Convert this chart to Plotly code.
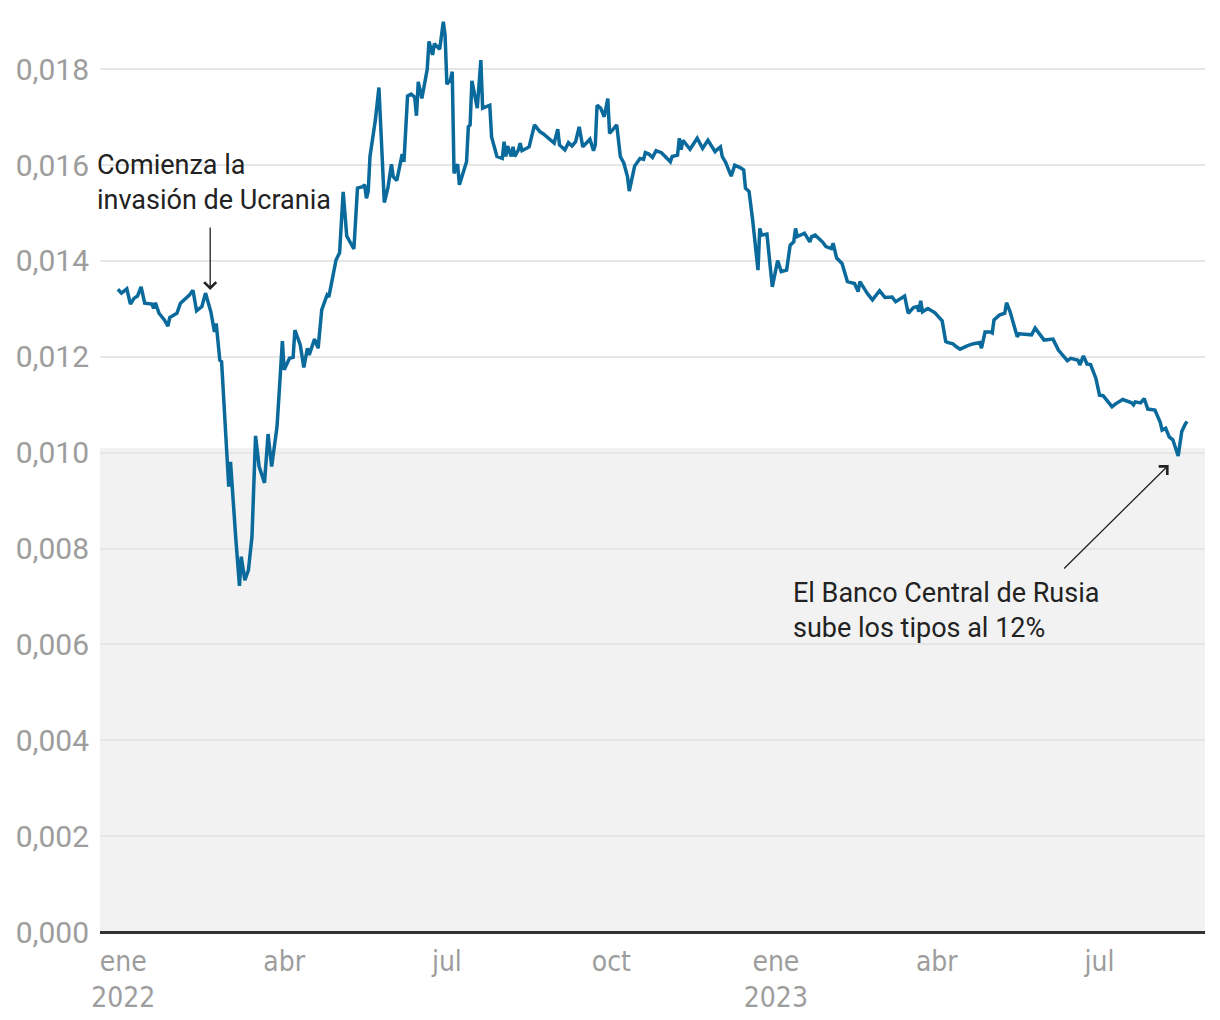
import plotly.graph_objects as go

# Cotización del rublo en dólares (lectura aproximada del gráfico)
fechas = [
    '2021-12-29', '2021-12-31', '2022-01-03', '2022-01-05', '2022-01-07', '2022-01-09',
    '2022-01-11', '2022-01-13', '2022-01-17', '2022-01-18', '2022-01-19', '2022-01-21',
    '2022-01-24', '2022-01-26', '2022-01-27', '2022-01-31', '2022-02-02', '2022-02-05',
    '2022-02-07', '2022-02-09', '2022-02-11', '2022-02-14', '2022-02-16', '2022-02-19',
    '2022-02-20', '2022-02-21', '2022-02-22', '2022-02-24', '2022-02-25', '2022-02-27',
    '2022-03-01', '2022-03-02', '2022-03-03', '2022-03-05', '2022-03-07', '2022-03-08',
    '2022-03-10', '2022-03-12', '2022-03-14', '2022-03-16', '2022-03-18', '2022-03-21',
    '2022-03-23', '2022-03-25', '2022-03-28', '2022-03-30', '2022-03-31', '2022-04-01',
    '2022-04-04', '2022-04-06', '2022-04-07', '2022-04-10', '2022-04-12', '2022-04-14',
    '2022-04-15', '2022-04-18', '2022-04-20', '2022-04-22', '2022-04-25', '2022-04-26',
    '2022-04-29', '2022-04-30', '2022-05-02', '2022-05-04', '2022-05-06', '2022-05-10',
    '2022-05-12', '2022-05-15', '2022-05-16', '2022-05-17', '2022-05-18', '2022-05-19',
    '2022-05-22', '2022-05-24', '2022-05-27', '2022-05-29', '2022-05-31', '2022-06-01',
    '2022-06-03', '2022-06-06', '2022-06-07', '2022-06-09', '2022-06-11', '2022-06-13',
    '2022-06-14', '2022-06-15', '2022-06-17', '2022-06-20', '2022-06-21', '2022-06-23',
    '2022-06-24', '2022-06-27', '2022-06-29', '2022-06-30', '2022-07-01', '2022-07-03',
    '2022-07-04', '2022-07-05', '2022-07-07', '2022-07-08', '2022-07-10', '2022-07-12',
    '2022-07-13', '2022-07-14', '2022-07-15', '2022-07-18', '2022-07-20', '2022-07-21',
    '2022-07-25', '2022-07-26', '2022-07-29', '2022-08-01', '2022-08-02', '2022-08-03',
    '2022-08-04', '2022-08-06', '2022-08-07', '2022-08-08', '2022-08-10', '2022-08-11',
    '2022-08-12', '2022-08-16', '2022-08-19', '2022-08-22', '2022-08-24', '2022-08-30',
    '2022-09-01', '2022-09-02', '2022-09-05', '2022-09-07', '2022-09-09', '2022-09-11',
    '2022-09-13', '2022-09-15', '2022-09-19', '2022-09-21', '2022-09-22', '2022-09-23',
    '2022-09-25', '2022-09-27', '2022-09-29', '2022-09-30', '2022-10-04', '2022-10-06',
    '2022-10-08', '2022-10-10', '2022-10-11', '2022-10-14', '2022-10-17', '2022-10-19',
    '2022-10-20', '2022-10-22', '2022-10-24', '2022-10-26', '2022-10-29', '2022-11-01',
    '2022-11-03', '2022-11-04', '2022-11-07', '2022-11-08', '2022-11-09', '2022-11-10',
    '2022-11-14', '2022-11-18', '2022-11-21', '2022-11-24', '2022-11-28', '2022-11-29',
    '2022-12-01', '2022-12-02', '2022-12-04', '2022-12-07', '2022-12-09', '2022-12-12',
    '2022-12-14', '2022-12-15', '2022-12-17', '2022-12-19', '2022-12-22', '2022-12-23',
    '2022-12-24', '2022-12-27', '2022-12-29', '2022-12-30', '2023-01-02', '2023-01-04',
    '2023-01-07', '2023-01-09', '2023-01-11', '2023-01-12', '2023-01-13', '2023-01-17',
    '2023-01-20', '2023-01-21', '2023-01-23', '2023-01-27', '2023-01-29', '2023-02-01',
    '2023-02-02', '2023-02-04', '2023-02-07', '2023-02-09', '2023-02-10', '2023-02-14',
    '2023-02-16', '2023-02-17', '2023-02-21', '2023-02-24', '2023-02-28', '2023-03-03',
    '2023-03-07', '2023-03-09', '2023-03-11', '2023-03-14', '2023-03-16', '2023-03-19',
    '2023-03-21', '2023-03-22', '2023-03-23', '2023-03-24', '2023-03-27', '2023-03-31',
    '2023-04-04', '2023-04-06', '2023-04-07', '2023-04-10', '2023-04-12', '2023-04-14',
    '2023-04-18', '2023-04-21', '2023-04-25', '2023-04-26', '2023-04-28', '2023-05-01',
    '2023-05-02', '2023-05-03', '2023-05-06', '2023-05-09', '2023-05-10', '2023-05-12',
    '2023-05-16', '2023-05-17', '2023-05-24', '2023-05-26', '2023-05-31', '2023-06-05',
    '2023-06-08', '2023-06-13', '2023-06-15', '2023-06-19', '2023-06-20', '2023-06-22',
    '2023-06-24', '2023-06-26', '2023-06-29', '2023-07-01', '2023-07-03', '2023-07-08',
    '2023-07-10', '2023-07-14', '2023-07-19', '2023-07-20', '2023-07-21', '2023-07-24',
    '2023-07-26', '2023-07-28', '2023-08-01', '2023-08-04', '2023-08-05', '2023-08-07',
    '2023-08-09', '2023-08-11', '2023-08-14', '2023-08-16', '2023-08-18', '2023-08-19',
]

valores = [
    0.01341, 0.01333, 0.01342, 0.01310, 0.01322, 0.01327,
    0.01346, 0.01312, 0.01310, 0.01301, 0.01313, 0.01291,
    0.01277, 0.01264, 0.01282, 0.01291, 0.01312, 0.01322,
    0.01329, 0.01339, 0.01296, 0.01305, 0.01333, 0.01294,
    0.01270, 0.01252, 0.01270, 0.01193, 0.01190, 0.01068,
    0.00929, 0.00981, 0.00922, 0.00818, 0.00722, 0.00783,
    0.00734, 0.00755, 0.00825, 0.01035, 0.00971, 0.00937,
    0.01039, 0.00971, 0.01054, 0.01169, 0.01233, 0.01173,
    0.01197, 0.01199, 0.01256, 0.01225, 0.01178, 0.01218,
    0.01204, 0.01237, 0.01218, 0.01298, 0.01329, 0.01325,
    0.01381, 0.01402, 0.01417, 0.01544, 0.01452, 0.01425,
    0.01552, 0.01555, 0.01559, 0.01531, 0.01545, 0.01618,
    0.01694, 0.01762, 0.01522, 0.01552, 0.01602, 0.01576,
    0.01568, 0.01623, 0.01607, 0.01744, 0.01748, 0.01742,
    0.01703, 0.01774, 0.01739, 0.01800, 0.01858, 0.01830,
    0.01853, 0.01842, 0.01899, 0.01871, 0.01769, 0.01778,
    0.01795, 0.01583, 0.01602, 0.01559, 0.01583, 0.01607,
    0.01680, 0.01684, 0.01776, 0.01719, 0.01819, 0.01719,
    0.01725, 0.01659, 0.01618, 0.01614, 0.01649, 0.01618,
    0.01640, 0.01618, 0.01638, 0.01618, 0.01632, 0.01646,
    0.01630, 0.01638, 0.01684, 0.01670, 0.01665, 0.01646,
    0.01675, 0.01642, 0.01632, 0.01647, 0.01640, 0.01649,
    0.01680, 0.01638, 0.01654, 0.01630, 0.01642, 0.01725,
    0.01719, 0.01701, 0.01739, 0.01666, 0.01684, 0.01618,
    0.01604, 0.01576, 0.01546, 0.01598, 0.01614, 0.01612,
    0.01626, 0.01623, 0.01616, 0.01630, 0.01626, 0.01614,
    0.01607, 0.01618, 0.01621, 0.01656, 0.01632, 0.01652,
    0.01633, 0.01656, 0.01635, 0.01652, 0.01628, 0.01632,
    0.01638, 0.01618, 0.01605, 0.01577, 0.01600, 0.01595,
    0.01590, 0.01552, 0.01545, 0.01486, 0.01381, 0.01468,
    0.01454, 0.01456, 0.01374, 0.01346, 0.01401, 0.01378,
    0.01381, 0.01433, 0.01440, 0.01468, 0.01451, 0.01458,
    0.01440, 0.01451, 0.01454, 0.01440, 0.01430, 0.01426,
    0.01437, 0.01406, 0.01395, 0.01366, 0.01357, 0.01353,
    0.01336, 0.01357, 0.01333, 0.01319, 0.01338, 0.01324,
    0.01325, 0.01315, 0.01319, 0.01327, 0.01291, 0.01303,
    0.01305, 0.01294, 0.01317, 0.01294, 0.01301, 0.01292,
    0.01275, 0.01232, 0.01230, 0.01227, 0.01221, 0.01216,
    0.01223, 0.01227, 0.01230, 0.01218, 0.01252, 0.01252,
    0.01250, 0.01277, 0.01287, 0.01291, 0.01313, 0.01294,
    0.01242, 0.01248, 0.01246, 0.01260, 0.01235, 0.01237,
    0.01214, 0.01192, 0.01197, 0.01193, 0.01183, 0.01202,
    0.01185, 0.01184, 0.01155, 0.01120, 0.01119, 0.01096,
    0.01102, 0.01111, 0.01104, 0.01100, 0.01106, 0.01104,
    0.01113, 0.01091, 0.01089, 0.01063, 0.01047, 0.01051,
    0.01033, 0.01027, 0.00993, 0.01044, 0.01060, 0.01065,
]

ticks_x = ['2022-01-01', '2022-04-01', '2022-07-01', '2022-10-01',
           '2023-01-01', '2023-04-01', '2023-07-01']
etiquetas_x = ['ene<br>2022', 'abr', 'jul', 'oct', 'ene<br>2023', 'abr', 'jul']

ticks_y = [0, 0.002, 0.004, 0.006, 0.008, 0.010, 0.012, 0.014, 0.016, 0.018]
etiquetas_y = [f'{v:.3f}'.replace('.', ',') for v in ticks_y]

GRIS = '#9d9d9d'
TEXTO = '#222222'

fig = go.Figure()

fig.add_trace(go.Scatter(
    x=fechas,
    y=valores,
    mode='lines',
    line=dict(color='#0a6a9c', width=3.5),
    hoverinfo='x+y',
    showlegend=False,
))

# zona sombreada por debajo de 0,010
fig.add_shape(
    type='rect', xref='paper', yref='y',
    x0=0, x1=1, y0=0, y1=0.0101,
    fillcolor='#f2f2f2', line_width=0, layer='below',
)

# flechas
fig.add_annotation(
    x='2022-02-18T15:00', y=0.013394, ax=0, ay=-64,
    axref='pixel', ayref='pixel', text='', showarrow=True,
    arrowhead=4, arrowsize=1.8, arrowwidth=1.3, arrowcolor=TEXTO, standoff=0,
)
fig.add_annotation(
    x='2023-08-08T16:00', y=0.009743, ax=-106, ay=105,
    axref='pixel', ayref='pixel', text='', showarrow=True,
    arrowhead=4, arrowsize=1.8, arrowwidth=1.3, arrowcolor=TEXTO, standoff=0,
)

# textos
fig.add_annotation(
    xref='paper', yref='paper', x=-0.0045, y=0.8152,
    xanchor='left', yanchor='middle', align='left', showarrow=False,
    text='Comienza la<br>invasión de Ucrania',
    font=dict(family='Roboto', size=27, color=TEXTO),
)
fig.add_annotation(
    xref='paper', yref='paper', x=0.6253, y=0.35,
    xanchor='left', yanchor='middle', align='left', showarrow=False,
    text='El Banco Central de Rusia<br>sube los tipos al 12%',
    font=dict(family='Roboto', size=27, color=TEXTO),
)

fig.update_xaxes(
    type='date',
    range=['2021-12-19', '2023-08-29'],
    tickmode='array', tickvals=ticks_x, ticktext=etiquetas_x,
    tickfont=dict(family='DejaVu Sans Condensed, Roboto', size=28, color=GRIS),
    showgrid=False, showline=False, zeroline=False,
    ticks='outside', ticklen=4, tickcolor='rgba(0,0,0,0)',
    automargin=False,
)

fig.update_yaxes(
    range=[0, 0.019195],
    tickmode='array', tickvals=ticks_y, ticktext=etiquetas_y,
    tickfont=dict(family='Roboto', size=30, color=GRIS),
    showgrid=True, gridcolor='#e6e6e6', gridwidth=2,
    zeroline=True, zerolinecolor='#333333', zerolinewidth=2.5,
    ticks='outside', ticklen=4, tickcolor='rgba(0,0,0,0)',
    automargin=False,
)

# el cuerpo de la página añade 8 px de margen: se descuenta aquí
fig.update_layout(
    width=1212, height=1012,
    margin=dict(l=92, r=15, t=4, b=88),
    paper_bgcolor='white', plot_bgcolor='white',
    font=dict(family='Roboto'),
)

fig.write_html('out.html')
